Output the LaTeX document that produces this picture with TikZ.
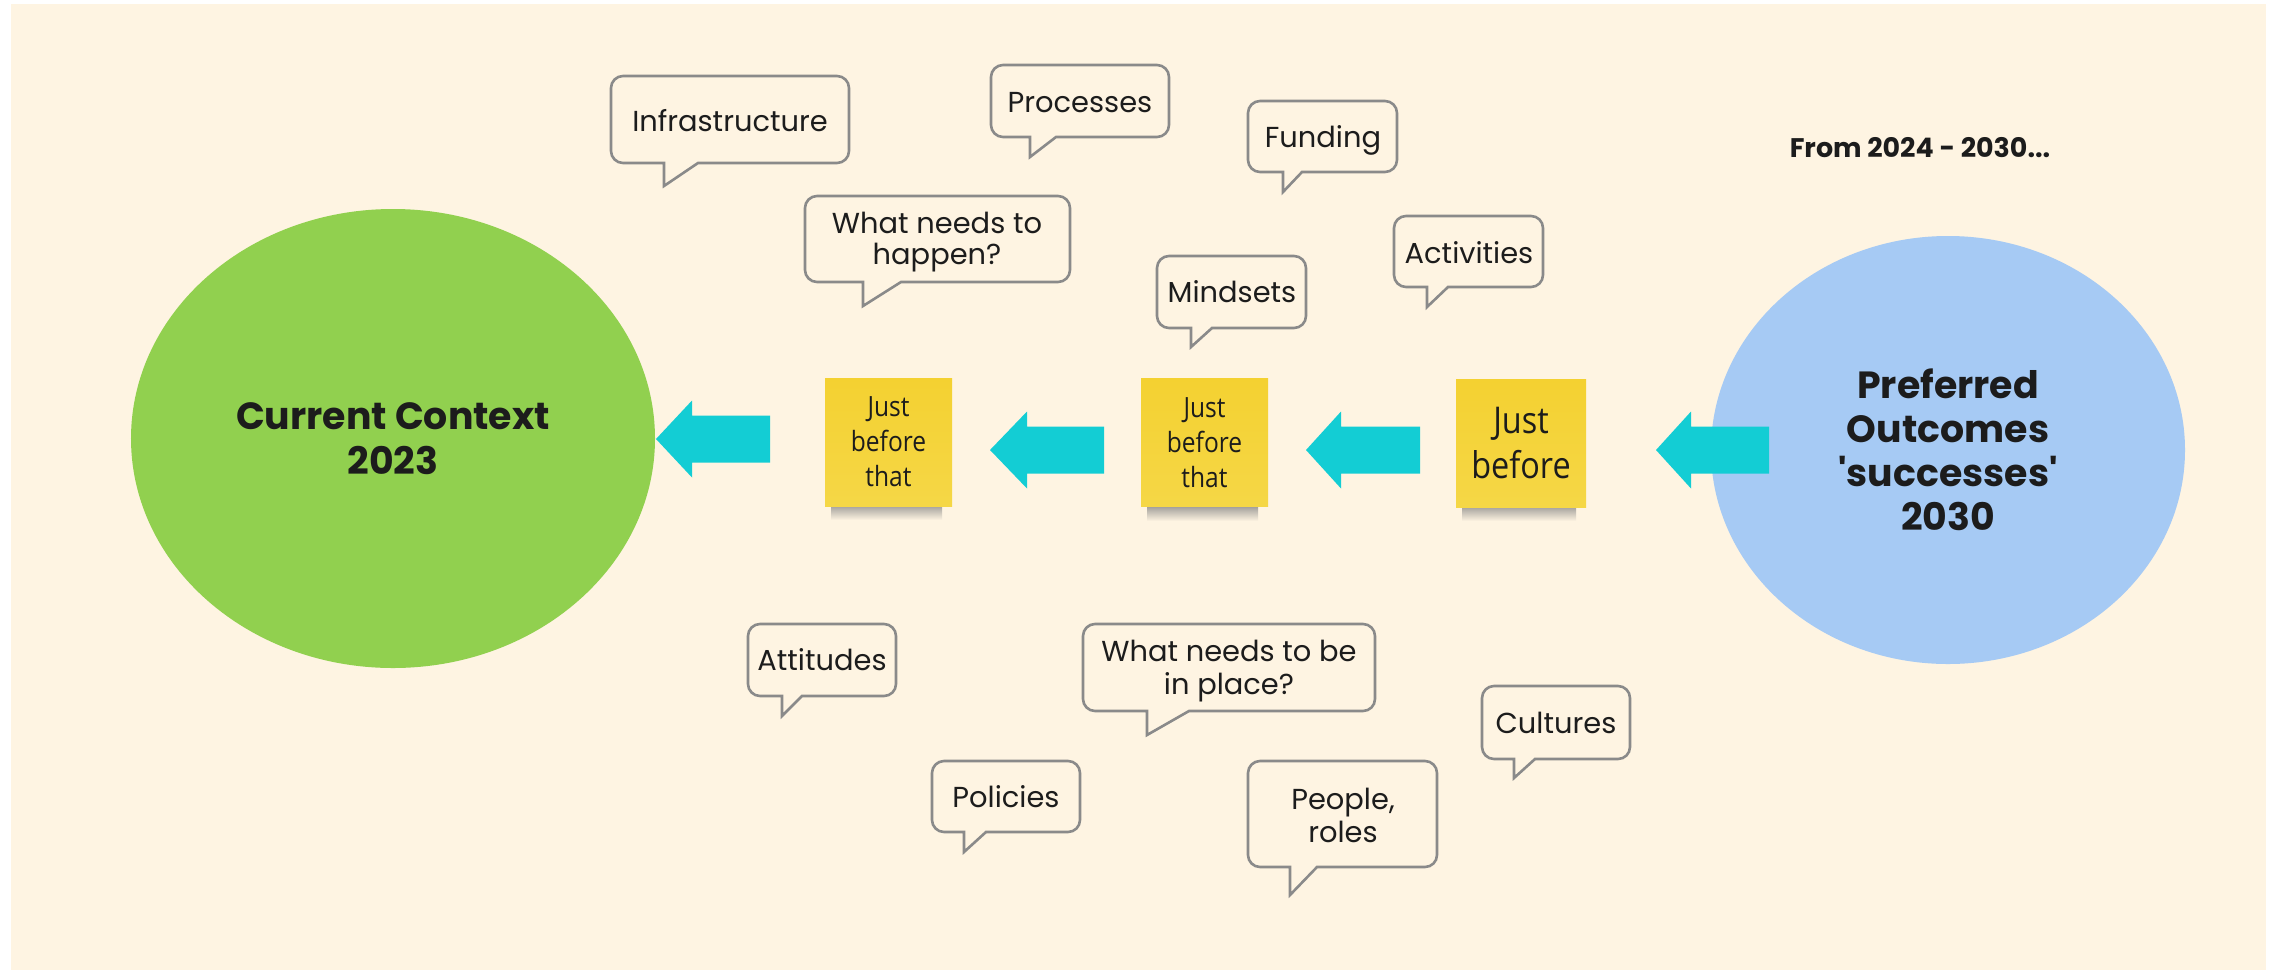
\documentclass[tikz,border=0pt]{standalone}
\usepackage{fontspec}
\setmainfont{Poppins}
\newfontfamily\titlefont{Poppins}
\newfontfamily\stickyfont[FakeStretch=0.88]{Open Sans}
\usetikzlibrary{shapes.geometric}
\definecolor{cream}{HTML}{FEF4E2}
\definecolor{greenC}{HTML}{91D04F}
\definecolor{blueC}{HTML}{A6CAF4}
\definecolor{cyanC}{HTML}{13CDD4}
\definecolor{stickyY}{HTML}{F4D131}
\definecolor{stickyY2}{HTML}{F5D746}
\definecolor{bubgray}{HTML}{8A8A8A}
\definecolor{ink}{HTML}{1C1C1C}
\tikzset{
  bubline/.style={draw=bubgray, line width=2.6bp, line join=miter},
  bubtext/.style={font=\fontsize{29}{33}\selectfont, text=ink, inner sep=0pt, align=center},
  sticky/.style={top color=stickyY, bottom color=stickyY2, minimum width=127bp, minimum height=128bp, inner sep=0pt, align=center, text=ink},
  blob/.style={ellipse, inner sep=0pt, align=center, text=ink, font=\titlefont\bfseries\fontsize{38}{45}\selectfont},
  arrowfill/.style={fill=cyanC},
}
% L T R B tl tr tip
\newcommand{\bubshape}[7]{%
  \draw[bubline] (#6,#4) -- ({#3-12},#4) .. controls ({#3-5.4},#4) and (#3,{#4-5.4}) .. (#3,{#4-12})
  -- (#3,{#2+12}) .. controls (#3,{#2+5.4}) and ({#3-5.4},#2) .. ({#3-12},#2)
  -- ({#1+12},#2) .. controls ({#1+5.4},#2) and (#1,{#2+5.4}) .. (#1,{#2+12})
  -- (#1,{#4-12}) .. controls (#1,{#4-5.4}) and ({#1+5.4},#4) .. ({#1+12},#4)
  -- (#5,#4) -- (#5,#7) -- cycle;}
% tipx tipy backx endx
\newcommand{\blockarrow}[4]{%
  \fill[arrowfill] (#1,#2) -- (#3,{#2-38.5}) -- (#3,{#2-23.5}) -- (#4,{#2-23.5})
  -- (#4,{#2+23.5}) -- (#3,{#2+23.5}) -- (#3,{#2+38.5}) -- cycle;}
% L R B
\newcommand{\stickyshadow}[3]{%
  \shade[top color=black!50, bottom color=cream] ({#1+6},{#3-6}) rectangle ({#2-10},{#3+14});}
\begin{document}
\begin{tikzpicture}[x=1bp,y=-1bp]
\useasboundingbox (0,0) rectangle (2277,970);
\fill[white] (0,0) rectangle (2277,970);
\fill[cream] (11,4) rectangle (2266,970);

% big ellipses
\node[blob, fill=greenC, minimum width=524bp, minimum height=459bp] (current) at (393,438.5) {Current Context\\2023};
\node[blob, fill=blueC, minimum width=474bp, minimum height=428bp, font=\titlefont\bfseries\fontsize{38}{44}\selectfont] (preferred) at (1948,450) {Preferred\\Outcomes\\'successes'\\2030};

\node[anchor=base, text=ink, font=\titlefont\bfseries\fontsize{27}{33}\selectfont] (from) at (1920,157) {From 2024 - 2030...};

% sticky notes
\stickyshadow{825}{952}{506}
\stickyshadow{1141}{1268}{507}
\stickyshadow{1456}{1586}{507}
\node[sticky, font=\stickyfont\fontsize{28}{35}\selectfont] (s1) at (888.5,442) {Just\\before\\that};
\node[sticky, font=\stickyfont\fontsize{28}{35}\selectfont] (s2) at (1204.5,442.5) {Just\\before\\that};
\node[sticky, minimum width=130bp, font=\stickyfont\fontsize{37}{45}\selectfont] (s3) at (1521,443) {Just\\before};

% block arrows
\blockarrow{656}{439}{692}{770}
\blockarrow{990}{450}{1027}{1104}
\blockarrow{1306}{450}{1341}{1420}
\blockarrow{1656}{450}{1691}{1769}

% speech bubbles
\bubshape{611}{76}{849}{163}{664}{698}{186}
\node[bubtext, anchor=base] (infra) at (730,131) {Infrastructure};
\bubshape{991}{65}{1169}{137}{1030}{1056}{157}
\node[bubtext, anchor=base] (proc) at (1080,112) {Processes};
\bubshape{1248}{101}{1397}{172}{1283}{1302}{192}
\node[bubtext, anchor=base] (fund) at (1323,147) {Funding};
\bubshape{805}{196}{1070}{282}{863}{901}{306}
\node[bubtext, font=\fontsize{29}{31}\selectfont] (happen) at (937,242) {What needs to\\happen?};
\bubshape{1157}{256}{1306}{328}{1191}{1212}{347}
\node[bubtext, anchor=base] (mind) at (1232,302) {Mindsets};
\bubshape{1394}{216}{1543}{287}{1427}{1448}{307}
\node[bubtext, anchor=base] (act) at (1469,263) {Activities};
\bubshape{748}{624}{896}{696}{782}{802}{716}
\node[bubtext, anchor=base] (att) at (822,670) {Attitudes};
\bubshape{1083}{624}{1375}{711}{1147}{1189}{735}
\node[bubtext] (place) at (1229,671) {What needs to be\\in place?};
\bubshape{932}{761}{1080}{832}{964}{986}{852}
\node[bubtext, anchor=base] (pol) at (1006,807) {Policies};
\bubshape{1248}{761}{1437}{867}{1290}{1317}{895}
\node[bubtext] (people) at (1343,815) {People,\\roles};
\bubshape{1482}{686}{1630}{759}{1514}{1535}{778}
\node[bubtext, anchor=base] (cult) at (1556,733) {Cultures};
\end{tikzpicture}
\end{document}
